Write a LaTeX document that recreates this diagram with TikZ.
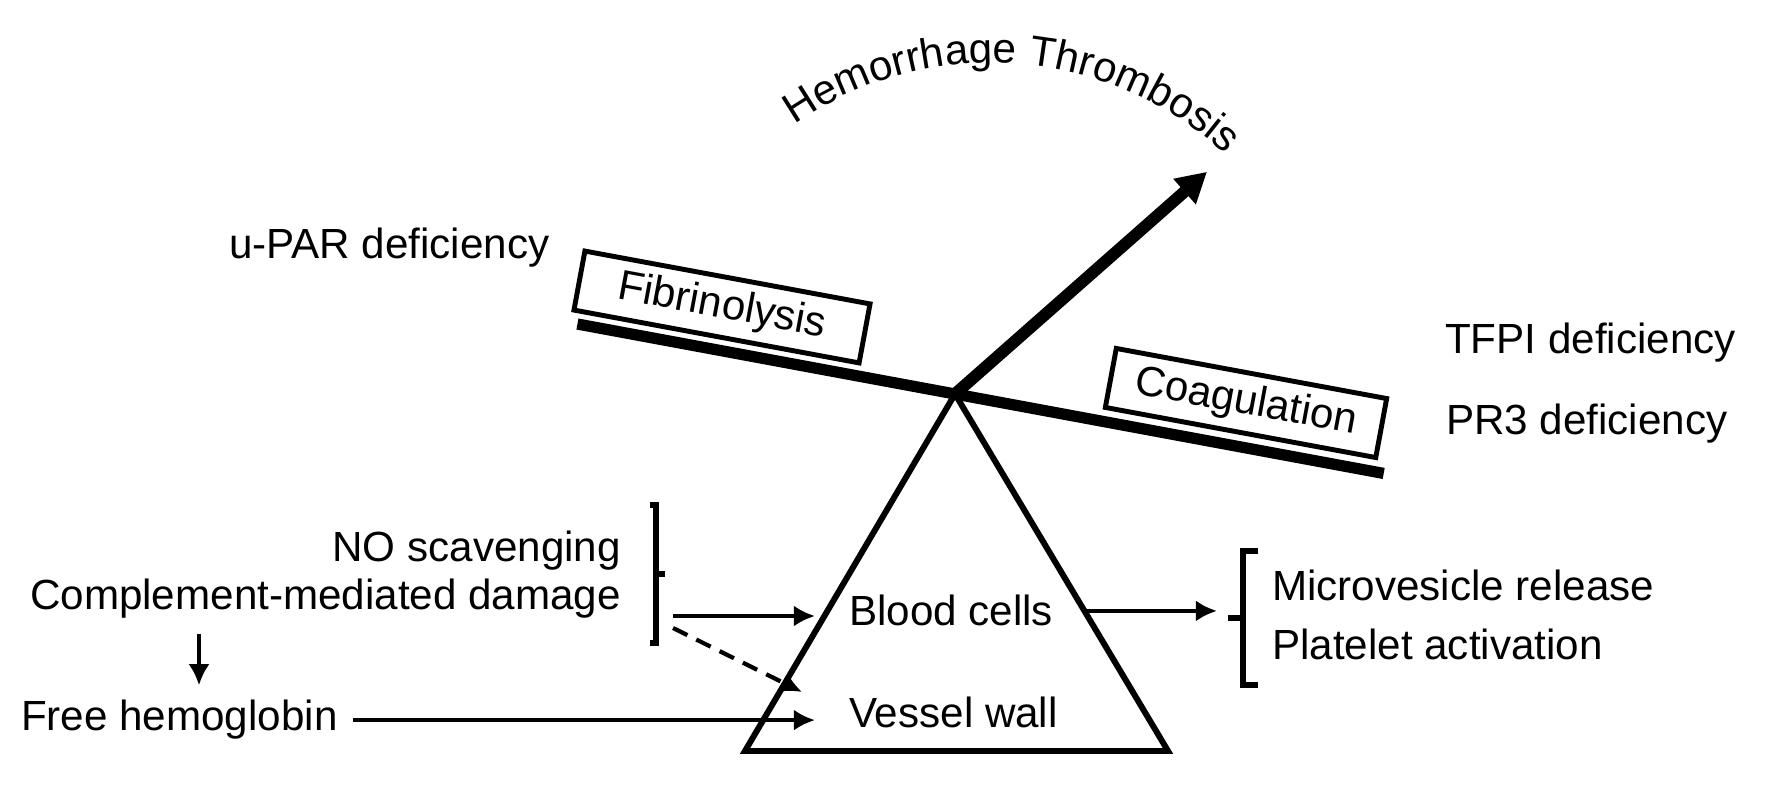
\documentclass[tikz,border=0pt,12pt]{standalone}
\usepackage{fontspec}
\setmainfont{Liberation Sans}
\usetikzlibrary{arrows.meta,decorations.text}

\begin{document}
\begin{tikzpicture}[>={Latex[length=6pt,width=6pt]}, every path/.style={line width=1.2pt}]
    \useasboundingbox (0,0) rectangle (17.7,-7.92);

    % Balance %
    \coordinate (pivot) at (9.55,-3.94);
    \coordinate (left) at (7.45,-7.51);
    \coordinate (right) at (11.68,-7.51);
    \draw[line width=1.7pt] (pivot) -- (left) -- (right) -- cycle;
    \draw[line width=3.2pt] (pivot) ++(169.5:3.84) coordinate (beamL) -- (pivot) -- ++(-10.5:4.36) coordinate (beamR);
    \draw[line width=3.4pt, -{Triangle[length=0.3cm,width=0.32cm]}] (pivot) -- ++(41.4:3.36) coordinate (tilt);
    \path[decorate, decoration={text along path, text align=center, text={Hemorrhage Thrombosis}}]
        (9.91,-4.08) ++(126:3.45) arc[start angle=126, end angle=46, radius=3.45];

    \begin{scope}[every node/.style={draw, line width=1.4pt, rotate=-10.5, inner sep=0pt, minimum height=0.6cm}]
        \node[minimum width=2.9cm] (fib) at (7.22,-3.07) {Fibrinolysis};
        \node[minimum width=2.75cm] (coag) at (12.46,-4.03) {Coagulation};
    \end{scope}

    \begin{scope}[every node/.style={inner sep=0.13cm}]
        \node[anchor=base west] (upar) at (2.14,-2.59) {u-PAR deficiency};
        \node[anchor=base west] (tfpi) at (14.30,-3.54) {TFPI deficiency};
        \node[anchor=base west] (pr3) at (14.31,-4.35) {PR3 deficiency};
        \node[anchor=base east] (no) at (6.36,-5.62) {NO scavenging};
        \node[anchor=base east] (comp) at (6.36,-6.10) {Complement-mediated damage};
        \node[anchor=base west] (free) at (0.06,-7.31) {Free hemoglobin};
        \node[anchor=base west] (blood) at (8.34,-6.26) {Blood cells};
        \node[anchor=base west] (vessel) at (8.34,-7.28) {Vessel wall};
        \node[anchor=base west] (micro) at (12.57,-6.01) {Microvesicle release};
        \node[anchor=base west] (plt) at (12.57,-6.60) {Platelet activation};
    \end{scope}

    % Brackets %
    \draw[line width=1.5pt] (6.50,-5.05) -- (6.56,-5.05) -- (6.56,-6.43) -- (6.50,-6.43) (6.56,-5.74) -- (6.65,-5.74);
    \draw[line width=1.5pt] (12.58,-5.51) -- (12.43,-5.51) -- (12.43,-6.85) -- (12.58,-6.85) (12.43,-6.18) -- (12.28,-6.18);

    % Arrows %
    \coordinate (lb) at (6.73,-6.16);
    \coordinate (hb) at (1.99,0);
    \coordinate (rb) at (12.17,-6.17);
    \coordinate (dtip) at (8.02,-6.92);
    \draw[->, shorten >=0.19cm] (lb) -- (lb -| blood.west);
    \draw[->, dashed, dash pattern=on 0.16cm off 0.1cm] (6.73,-6.28) -- (dtip);
    \draw[->, shorten >=0.19cm] (free.east) -- (free.east -| vessel.west);
    \draw[->] (comp.south -| hb) -- (free.north -| hb);
    \draw[->, shorten <=0.19cm] (blood.east) -- (blood.east -| rb);

\end{tikzpicture}
\end{document}
